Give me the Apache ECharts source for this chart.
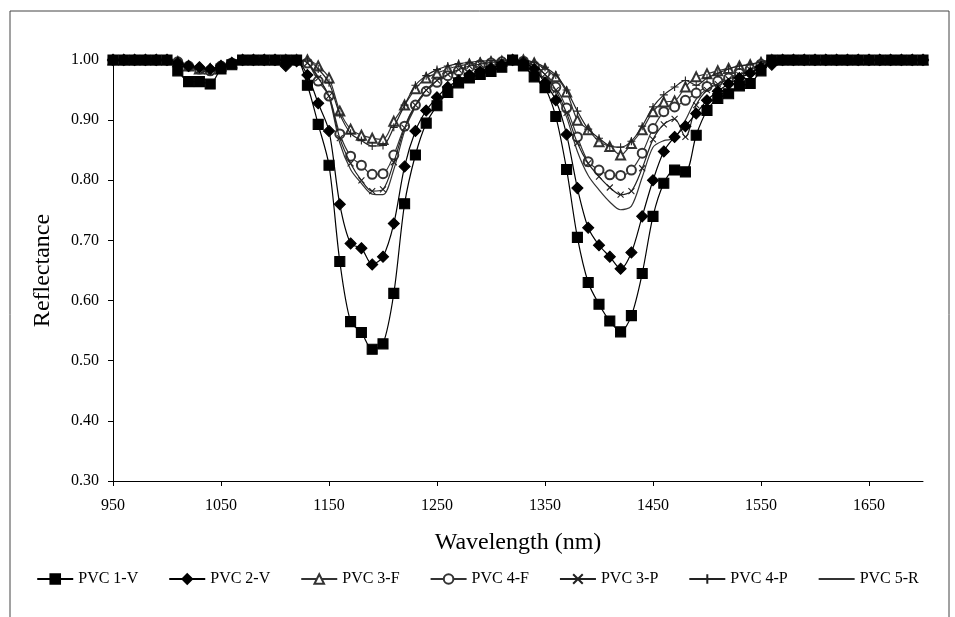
<!DOCTYPE html>
<html>
<head>
<meta charset="utf-8">
<script src="https://cdn.jsdelivr.net/npm/echarts@6/dist/echarts.min.js"></script>
<style>
  html, body { margin: 0; padding: 0; background: #fff; }
  #chart { width: 955px; height: 617px; }
</style>
</head>
<body>
<div id="chart"></div>
<script>
// wavelength (nm), one point every 10 nm
var wavelength = [950, 960, 970, 980, 990, 1000, 1010, 1020, 1030, 1040, 1050, 1060, 1070, 1080, 1090, 1100,
  1110, 1120, 1130, 1140, 1150, 1160, 1170, 1180, 1190, 1200, 1210, 1220, 1230, 1240, 1250, 1260,
  1270, 1280, 1290, 1300, 1310, 1320, 1330, 1340, 1350, 1360, 1370, 1380, 1390, 1400, 1410, 1420,
  1430, 1440, 1450, 1460, 1470, 1480, 1490, 1500, 1510, 1520, 1530, 1540, 1550, 1560, 1570, 1580,
  1590, 1600, 1610, 1620, 1630, 1640, 1650, 1660, 1670, 1680, 1690, 1700];

var xTicks = [950, 1050, 1150, 1250, 1350, 1450, 1550, 1650];

var pvc1V = [1, 1, 1, 1, 1, 1, 0.982, 0.964, 0.964, 0.960, 0.985, 0.992, 1, 1, 1, 1, 1, 1,
  0.958, 0.893, 0.825, 0.665, 0.565, 0.547, 0.519, 0.528, 0.612, 0.761, 0.842, 0.895, 0.924, 0.946,
  0.962, 0.970, 0.976, 0.981, 0.988, 1.0, 0.990, 0.972, 0.954, 0.906, 0.818, 0.705, 0.630, 0.594,
  0.566, 0.548, 0.575, 0.645, 0.740, 0.795, 0.817, 0.814, 0.875, 0.916, 0.936, 0.944, 0.957, 0.961,
  0.982, 1, 1, 1, 1, 1, 1, 1, 1, 1, 1, 1, 1, 1, 1, 1];

var pvc2V = [1, 1, 1, 1, 1, 1, 0.995, 0.990, 0.988, 0.985, 0.990, 0.995, 1, 1, 1, 1, 0.990, 0.998,
  0.975, 0.928, 0.882, 0.760, 0.695, 0.687, 0.660, 0.673, 0.728, 0.823, 0.882, 0.916, 0.938, 0.955,
  0.966, 0.975, 0.981, 0.986, 0.992, 1.0, 0.996, 0.985, 0.962, 0.933, 0.876, 0.787, 0.721, 0.692,
  0.673, 0.653, 0.680, 0.740, 0.800, 0.848, 0.872, 0.890, 0.911, 0.933, 0.948, 0.960, 0.970, 0.978,
  0.988, 0.992, 1, 1, 1, 1, 1, 1, 1, 1, 1, 1, 1, 1, 1, 1];

var pvc3F = [1, 1, 1, 1, 1, 1, 0.997, 0.990, 0.985, 0.985, 0.990, 0.995, 1, 1, 1, 1, 1, 1,
  1.0, 0.990, 0.970, 0.915, 0.885, 0.875, 0.870, 0.868, 0.898, 0.925, 0.952, 0.970, 0.978, 0.985,
  0.990, 0.993, 0.995, 0.997, 0.998, 1.0, 1.0, 0.995, 0.985, 0.972, 0.947, 0.900, 0.884, 0.864,
  0.856, 0.842, 0.861, 0.884, 0.914, 0.930, 0.932, 0.955, 0.972, 0.977, 0.982, 0.986, 0.990, 0.992,
  0.996, 1, 1, 1, 1, 1, 1, 1, 1, 1, 1, 1, 1, 1, 1, 1];

var pvc4F = [1, 1, 1, 1, 1, 1, 0.997, 0.990, 0.985, 0.982, 0.990, 0.995, 1, 1, 1, 1, 1, 1,
  0.995, 0.965, 0.940, 0.877, 0.840, 0.825, 0.810, 0.811, 0.842, 0.890, 0.925, 0.948, 0.963, 0.974,
  0.982, 0.988, 0.992, 0.995, 0.997, 1.0, 0.998, 0.990, 0.978, 0.955, 0.920, 0.872, 0.831, 0.817,
  0.809, 0.808, 0.817, 0.845, 0.886, 0.914, 0.922, 0.933, 0.945, 0.956, 0.965, 0.970, 0.978, 0.985,
  0.993, 1, 1, 1, 1, 1, 1, 1, 1, 1, 1, 1, 1, 1, 1, 1];

var pvc3P = [1, 1, 1, 1, 1, 1, 0.996, 0.988, 0.983, 0.980, 0.988, 0.994, 1, 1, 1, 1, 1, 1,
  0.995, 0.970, 0.940, 0.870, 0.828, 0.800, 0.782, 0.785, 0.830, 0.887, 0.925, 0.950, 0.966, 0.976,
  0.984, 0.990, 0.993, 0.996, 0.998, 1.0, 0.998, 0.990, 0.976, 0.950, 0.912, 0.862, 0.828, 0.806,
  0.788, 0.776, 0.782, 0.820, 0.868, 0.893, 0.902, 0.872, 0.925, 0.950, 0.960, 0.968, 0.975, 0.984,
  0.992, 1, 1, 1, 1, 1, 1, 1, 1, 1, 1, 1, 1, 1, 1, 1];

var pvc4P = [1, 1, 1, 1, 1, 1, 0.997, 0.990, 0.986, 0.984, 0.990, 0.995, 1, 1, 1, 1, 1, 1,
  1.0, 0.985, 0.962, 0.910, 0.878, 0.866, 0.857, 0.858, 0.888, 0.925, 0.958, 0.974, 0.984, 0.990,
  0.994, 0.996, 0.998, 0.999, 1.0, 1.0, 1.0, 0.996, 0.988, 0.975, 0.950, 0.915, 0.885, 0.870,
  0.857, 0.855, 0.865, 0.890, 0.922, 0.942, 0.955, 0.966, 0.958, 0.970, 0.978, 0.985, 0.990, 0.993,
  0.997, 1, 1, 1, 1, 1, 1, 1, 1, 1, 1, 1, 1, 1, 1, 1];

var pvc5R = [1, 1, 1, 1, 1, 1, 0.996, 0.988, 0.983, 0.980, 0.988, 0.994, 1, 1, 1, 1, 1, 1,
  0.995, 0.972, 0.938, 0.862, 0.818, 0.795, 0.777, 0.776, 0.818, 0.882, 0.922, 0.948, 0.964, 0.975,
  0.983, 0.989, 0.993, 0.996, 0.998, 1.0, 0.998, 0.990, 0.975, 0.945, 0.905, 0.848, 0.808, 0.784,
  0.764, 0.751, 0.757, 0.805, 0.855, 0.866, 0.870, 0.900, 0.935, 0.952, 0.962, 0.970, 0.977, 0.985,
  0.992, 1, 1, 1, 1, 1, 1, 1, 1, 1, 1, 1, 1, 1, 1, 1];

var seriesNames = ['PVC 1-V', 'PVC 2-V', 'PVC 3-F', 'PVC 4-F', 'PVC 3-P', 'PVC 4-P', 'PVC 5-R'];

function pairs(vals) {
  return wavelength.map(function (w, i) { return [w, vals[i]]; });
}

var serif = '"Liberation Serif", "DejaVu Serif", serif';

function makeSeries(name, vals, symbol, size, color, z) {
  return {
    name: name,
    type: 'line',
    data: pairs(vals),
    smooth: 0.3,
    symbol: symbol,
    symbolSize: size,
    showSymbol: symbol !== 'none',
    z: z,
    lineStyle: { color: color, width: 1.2 },
    itemStyle: { color: color, borderColor: color, borderWidth: 1.1 }
  };
}

// legend entries; the plain line series gets an invisible marker
var legendData = seriesNames.map(function (n) {
  if (n === 'PVC 5-R') {
    return { name: n, itemStyle: { color: 'rgba(0,0,0,0)', borderColor: 'rgba(0,0,0,0)' } };
  }
  return { name: n };
});

var chart = echarts.init(document.getElementById('chart'));

chart.setOption({
  animation: false,
  backgroundColor: '#fff',
  graphic: [{
    type: 'rect',
    shape: { x: 10, y: 11, width: 939, height: 700 },
    style: { fill: 'none', stroke: '#444', lineWidth: 1 },
    silent: true
  }],
  grid: { left: 113, right: 32, top: 60, bottom: 136 },
  legend: {
    bottom: 25,
    left: 'center',
    itemGap: 30,
    itemWidth: 36,
    itemHeight: 12,
    textStyle: { fontFamily: serif, fontSize: 16, color: '#000' },
    data: legendData
  },
  xAxis: {
    type: 'value',
    min: 950,
    max: 1700,
    interval: 100,
    name: 'Wavelength (nm)',
    nameLocation: 'middle',
    nameGap: 50,
    nameTextStyle: { fontFamily: serif, fontSize: 24, color: '#000' },
    axisLine: { lineStyle: { color: '#000', width: 1 } },
    axisTick: { show: true, length: 5, customValues: xTicks, lineStyle: { color: '#000' } },
    axisLabel: {
      customValues: xTicks, fontFamily: serif, fontSize: 16, color: '#000', margin: 17,
      formatter: function (v) { return String(v); }
    },
    splitLine: { show: false }
  },
  yAxis: {
    type: 'value',
    min: 0.3,
    max: 1.0,
    interval: 0.1,
    name: 'Reflectance',
    nameLocation: 'middle',
    nameGap: 58,
    nameTextStyle: { fontFamily: serif, fontSize: 24, color: '#000' },
    axisLine: { show: true, lineStyle: { color: '#000', width: 1 } },
    axisTick: { show: true, length: 5, lineStyle: { color: '#000' } },
    axisLabel: {
      fontFamily: serif, fontSize: 16, color: '#000', margin: 14,
      formatter: function (v) { return v.toFixed(2); }
    },
    splitLine: { show: false }
  },
  series: [
    makeSeries(seriesNames[0], pvc1V, 'rect', 10, '#000', 9),
    makeSeries(seriesNames[1], pvc2V, 'diamond', 11, '#000', 8),
    makeSeries(seriesNames[2], pvc3F, 'emptyTriangle', 9, '#333', 4),
    makeSeries(seriesNames[3], pvc4F, 'emptyCircle', 9, '#333', 5),
    makeSeries(seriesNames[4], pvc3P, 'path://M0,0L10,10M10,0L0,10', 6, '#222', 6),
    makeSeries(seriesNames[5], pvc4P, 'path://M5,0L5,10M0,5L10,5', 8, '#222', 7),
    makeSeries(seriesNames[6], pvc5R, 'none', 0, '#333', 3)
  ]
});
</script>
</body>
</html>
